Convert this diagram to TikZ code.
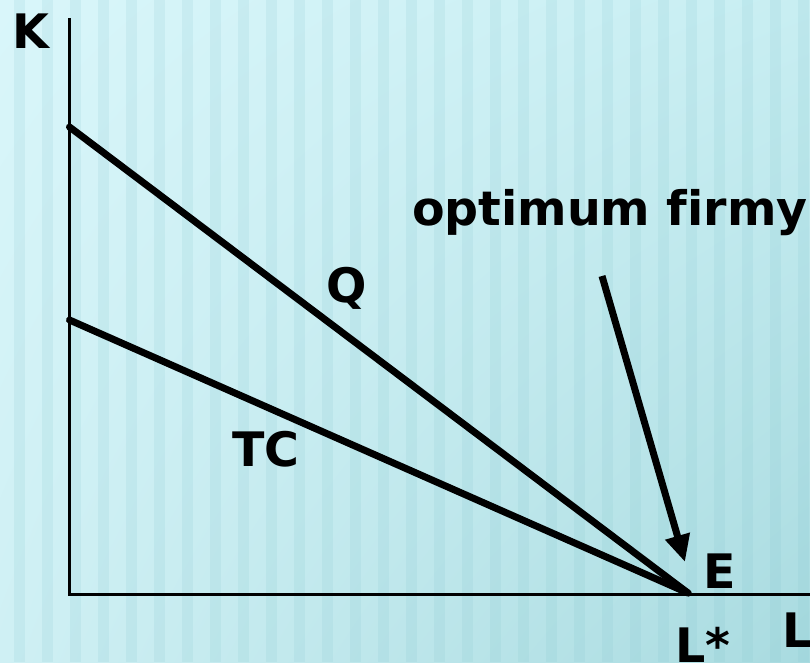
\documentclass[tikz,border=0pt]{standalone}
\usepackage{fontspec}
\setmainfont{DejaVu Sans}[Ligatures=NoCommon]
\usetikzlibrary{arrows.meta,shadings}
\definecolor{bgA}{HTML}{D9F6FA}
\definecolor{bgB}{HTML}{C8EEF2}
\definecolor{bgC}{HTML}{CFF0F4}
\definecolor{bgD}{HTML}{A9DBE0}
\definecolor{stripe}{HTML}{7FC3CC}
\tikzset{
  lbl/.style={inner sep=0pt, outer sep=0pt, font=\fontsize{47.5}{56}\selectfont\bfseries, text=black, anchor=base west},
  axis/.style={line width=3.6pt, line cap=rect},
  curve/.style={line width=7pt, line cap=round},
  pointer/.style={line width=7pt, -{Triangle[length=27pt,width=24pt]}}
}
\begin{document}
\begin{tikzpicture}[x=1pt,y=-1pt]
\useasboundingbox (0,0) rectangle (810,662);
% background
\shade[upper left=bgA, upper right=bgB, lower left=bgC, lower right=bgD] (0,0) rectangle (810,662);
\foreach \i in {0,...,29} {
  \fill[stripe, opacity=0.15] ({14+28*\i},0) rectangle ({25+28*\i},662);
}
% coordinates
\coordinate (Ktop) at (69.5,20);
\coordinate (O) at (69.5,594.5);
\coordinate (Lend) at (812,594.5);
\coordinate (Q0) at (69.5,127);
\coordinate (T0) at (69.5,320);
\coordinate (E) at (688,593);
\coordinate (A0) at (602,276);
\coordinate (A1) at (685,562);
% axes
\draw[axis] (Ktop) -- (O) -- (Lend);
% lines
\draw[curve] (Q0) -- (E);
\draw[curve] (T0) -- (E);
\draw[pointer] (A0) -- (A1);
% labels
\node[lbl] (k) at (12.5,48) {K};
\node[lbl] (q) at (326,302) {Q};
\node[lbl] (tc) at (232,466) {TC};
\node[lbl] (opt) at (412,225) {optimum firmy};
\node[lbl] (e) at (703.5,588) {E};
\node[lbl] (ls) at (675.5,662) {L*};
\node[lbl] (l) at (782.5,647) {L};
\end{tikzpicture}
\end{document}
